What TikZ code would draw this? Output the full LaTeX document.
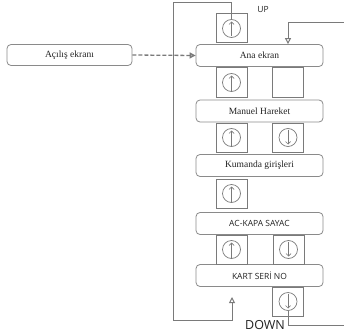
\documentclass[tikz,border=0pt]{standalone}
\usepackage{fontspec}
\setmainfont{Liberation Serif}
\newfontfamily\sansf{Open Sans}
\usetikzlibrary{arrows.meta}
\definecolor{lg}{HTML}{7A7A7A}
\definecolor{bg}{HTML}{8A8A8A}
\definecolor{tx}{HTML}{222222}
\begin{document}
\begin{tikzpicture}[x=1pt,y=-1pt,
  box/.style={draw=bg,line width=0.8pt,rounded corners=4pt,minimum width=127pt,minimum height=22pt,inner sep=0pt,text=tx,font=\fontsize{9.5}{11}\selectfont},
  sbox/.style={box,font=\sansf\fontsize{8.5}{10}\selectfont},
  btn/.style={draw=lg,line width=1pt,minimum width=31pt,minimum height=29pt,inner sep=0pt},
  line/.style={draw=lg,line width=1pt},
  ring/.style={draw=lg,line width=0.7pt},
  barb/.style={draw=lg,line width=0.7pt,-{Straight Barb[length=2.5pt,width=5pt]}}
]
\useasboundingbox (0,0) rectangle (344,334);
% boxes
\node[box,minimum width=125pt,minimum height=21pt] (acilis) at (69.5,55) {Açılış ekranı};
\node[box] (ana) at (259.5,55.5) {Ana ekran};
\node[box] (manuel) at (259.5,111) {Manuel Hareket};
\node[box] (kumanda) at (259.5,165.5) {Kumanda girişleri};
\node[sbox] (ackapa) at (259.5,223.5) {AC-KAPA SAYAC};
\node[sbox] (kart) at (259.5,275.5) {KART SERİ NO};
% buttons
\node[btn] (u0) at (231.5,28.5) {};
\node[btn] (u1) at (231.5,82.5) {};
\node[btn] (e1) at (287.5,82.5) {};
\node[btn] (u2) at (231.5,137.5) {};
\node[btn] (d2) at (288,137.5) {};
\node[btn] (u3) at (231.5,193.5) {};
\node[btn] (u4) at (231.5,249.5) {};
\node[btn] (d4) at (288.5,249.5) {};
\node[btn] (d5) at (288,301.5) {};
\foreach \b in {u0,u1,u2,u3,u4}{
  \draw[ring] (\b.center) circle[radius=9pt];
  \draw[barb] ([yshift=-8pt]\b.center) -- ([yshift=7pt]\b.center);
}
\foreach \b in {d2,d4,d5}{
  \draw[ring] (\b.center) circle[radius=9pt];
  \draw[barb] ([yshift=8pt]\b.center) -- ([yshift=-7pt]\b.center);
}
% labels
\node[font=\sansf\fontsize{8.5}{10}\selectfont,text=tx,inner sep=0pt] (up) at (263,10) {UP};
\node[font=\sansf\fontsize{12.5}{14}\selectfont,text=tx,inner sep=0pt] (down) at (265,325) {DOWN};
% dashed arrow
\draw[draw=lg,line width=1.3pt,dash pattern=on 4pt off 2pt,-{Triangle[length=6pt,width=6pt,fill=lg!60]}] (acilis.east) -- (ana.west);
% loops
\coordinate (lt) at (173,3);
\coordinate (lb) at (173,320);
\coordinate (ke) at (232,297);
\draw[line,-{Triangle[open,length=6pt,width=6pt]}] ([yshift=9pt]u0.center) |- (lt) -- (lb) -| (ke);
\coordinate (rt) at (344,23);
\draw[line,-{Triangle[open,length=6pt,width=6pt]}] (rt) -| ([xshift=28.5pt]ana.north);
\coordinate (rb) at (344,325);
\draw[line] ([yshift=-9pt]d5.center) |- (rb);
\end{tikzpicture}
\end{document}
